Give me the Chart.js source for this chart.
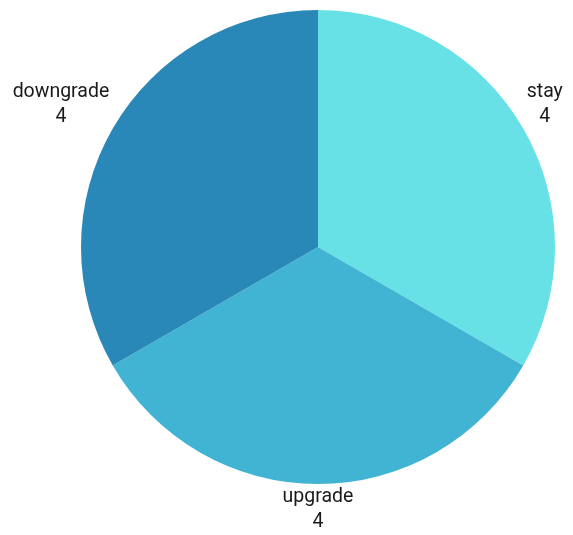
<!DOCTYPE html>
<html>
<head>
<meta charset="utf-8">
<script src="https://cdn.jsdelivr.net/npm/chart.js@4"></script>
<style>
  html, body { margin: 0; padding: 0; background: #ffffff; }
  #wrap { width: 573px; height: 535px; }
</style>
</head>
<body>
<div id="wrap"><canvas id="chart" width="573" height="535"></canvas></div>
<script>
const categories = ['stay', 'upgrade', 'downgrade'];
const counts = [4, 4, 4];
const sliceColors = ['#68e1e6', '#42b4d3', '#2a88b8'];

// labels outside each slice: name on top, value below.
// the corner of the text box nearest the pie sits on a ring just outside it
const outsideLabels = {
    id: 'outsideLabels',
    afterDatasetsDraw(chart) {
        const ctx = chart.ctx;
        const meta = chart.getDatasetMeta(0);
        const lineGap = 25;
        ctx.save();
        ctx.font = '19.5px Roboto, "Noto Sans", sans-serif';
        ctx.fillStyle = '#1a1a1a';
        ctx.textAlign = 'center';
        ctx.textBaseline = 'middle';
        meta.data.forEach((arc, i) => {
            const mid = (arc.startAngle + arc.endAngle) / 2;
            const r = arc.outerRadius + 4;
            const cx = Math.cos(mid), sy = Math.sin(mid);
            const w = Math.max(ctx.measureText(categories[i]).width, ctx.measureText(String(counts[i])).width);
            const h = lineGap + 18;
            const sx = Math.abs(cx) < 0.01 ? 0 : Math.sign(cx);
            const sv = Math.abs(sy) < 0.01 ? 0 : Math.sign(sy);
            const x = arc.x + cx * r + sx * w / 2;
            const y = arc.y + sy * r + sv * h / 2;
            ctx.fillText(categories[i], x, y - lineGap / 2);
            ctx.fillText(String(counts[i]), x, y + lineGap / 2);
        });
        ctx.restore();
    }
};

new Chart(document.getElementById('chart').getContext('2d'), {
    type: 'pie',
    data: {
        labels: categories,
        datasets: [{
            data: counts,
            backgroundColor: sliceColors,
            borderWidth: 0,
        }],
    },
    options: {
        responsive: false,
        animation: false,
        layout: { padding: { left: 81, right: 18, top: 10, bottom: 51 } },
        plugins: {
            legend: { display: false },
            tooltip: { enabled: false },
        },
    },
    plugins: [outsideLabels],
});
</script>
</body>
</html>
